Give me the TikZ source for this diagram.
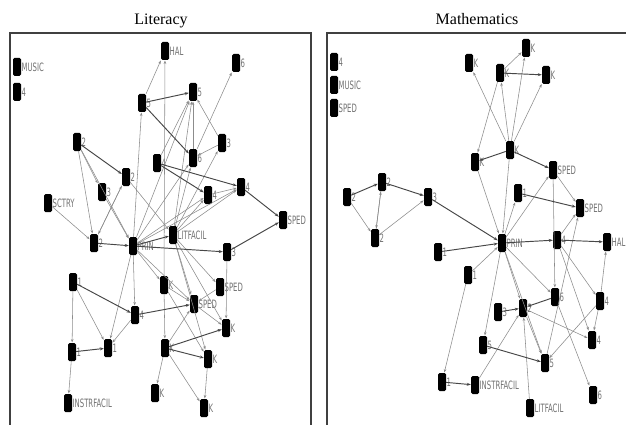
\documentclass[tikz,border=0pt]{standalone}
\usepackage{fontspec}
\usetikzlibrary{arrows.meta}
\newfontfamily\lblfont[FakeStretch=0.6]{DejaVu Sans}
\newfontfamily\ttlfont{Liberation Serif}
\tikzset{
  nd/.style={fill=black, rounded corners=1.5pt, minimum width=8pt, minimum height=18pt, inner sep=0pt},
  lbl/.style={font=\lblfont\fontsize{11.5}{11.5}\selectfont, text=black!55, inner sep=0.3pt},
  ed/.style={draw=black!45, line width=0.55pt, -{Stealth[length=3.5pt,width=2.6pt]}, shorten >=0.3pt},
  edk/.style={draw=black!72, line width=0.95pt, -{Stealth[length=4pt,width=3pt]}},
  frm/.style={draw=black!75, line width=1.3pt},
  ttl/.style={font=\ttlfont\fontsize{16}{16}\selectfont, anchor=base}
}
\newcommand\mynode[4]{\node[nd,label={[lbl,label distance=0pt]right:#4}] (#1) at (#2,#3) {};}
\begin{document}
\begin{tikzpicture}[x=1pt,y=-1pt]
\useasboundingbox[fill=white] (0,0) rectangle (626,425);
% titles
\node[ttl] (t1) at (161,25) {Literacy};
\node[ttl] (t2) at (477,25) {Mathematics};
% frames
\draw[frm] (10,425) -- (10,33) -- (311,33) -- (311,425);
\draw[frm] (327,425) -- (327,33) -- (626,33);
% ---------- Literacy nodes ----------
\mynode{lmusic}{17}{67}{MUSIC}
\mynode{lfour}{17}{92}{4}
\mynode{lhal}{165}{51}{HAL}
\mynode{lsixa}{236}{63}{6}
\mynode{lfivea}{142}{103}{5}
\mynode{lfiveb}{193}{92}{5}
\mynode{lthreea}{222}{143}{3}
\mynode{lsixb}{193}{158}{6}
\mynode{lfourb}{157}{163}{4}
\mynode{ltwoa}{77}{142}{2}
\mynode{ltwob}{126}{177}{2}
\mynode{lthreeb}{102}{192}{3}
\mynode{lsctry}{48}{203}{SCTRY}
\mynode{lfourc}{208}{195}{4}
\mynode{lfourd}{241}{187}{4}
\mynode{lsped}{283}{220}{SPED}
\mynode{ltwoc}{94}{243}{2}
\mynode{lprin}{133}{246}{PRIN}
\mynode{llit}{173}{235}{LITFACIL}
\mynode{lthreec}{227}{252}{3}
\mynode{lonea}{73}{282}{1}
\mynode{lka}{164}{285}{K}
\mynode{lspa}{220}{287}{SPED}
\mynode{lspb}{194}{304}{SPED}
\mynode{lfoure}{135}{315}{4}
\mynode{lkb}{226}{328}{K}
\mynode{loneb}{72}{352}{1}
\mynode{lonec}{108}{348}{1}
\mynode{lkc}{165}{348}{K}
\mynode{lkd}{208}{359}{K}
\mynode{linst}{68}{403}{INSTRFACIL}
\mynode{lke}{155}{393}{K}
\mynode{lkf}{204}{408}{K}
% ---------- Mathematics nodes ----------
\mynode{mfoura}{334}{62}{4}
\mynode{mmusic}{334}{85}{MUSIC}
\mynode{msped}{334}{108}{SPED}
\mynode{mka}{469}{63}{K}
\mynode{mkb}{526}{48}{K}
\mynode{mkc}{500}{73}{K}
\mynode{mkd}{546}{75}{K}
\mynode{mke}{510}{150}{K}
\mynode{mkf}{475}{162}{K}
\mynode{mspa}{553}{170}{SPED}
\mynode{monea}{518}{193}{1}
\mynode{mspb}{580}{208}{SPED}
\mynode{mtwoa}{347}{197}{2}
\mynode{mtwob}{382}{182}{2}
\mynode{mthreea}{428}{197}{3}
\mynode{mtwoc}{375}{238}{2}
\mynode{mprin}{502}{243}{PRIN}
\mynode{moneb}{438}{252}{1}
\mynode{mfourb}{557}{240}{4}
\mynode{mhal}{607}{242}{HAL}
\mynode{monec}{468}{275}{1}
\mynode{msixa}{555}{297}{6}
\mynode{mfourc}{600}{301}{4}
\mynode{mthreeb}{498}{312}{3}
\mynode{mthreec}{523}{308}{2}
\mynode{mfourd}{592}{340}{4}
\mynode{mfivea}{483}{345}{5}
\mynode{mfiveb}{545}{363}{5}
\mynode{moned}{442}{382}{1}
\mynode{minst}{475}{385}{INSTRFACIL}
\mynode{mlit}{530}{408}{LITFACIL}
\mynode{msixb}{593}{395}{6}
% ---------- Literacy edges ----------
\foreach \a/\b in {lfivea/lhal, lka/lhal, lsixb/lsixa, lthreea/lfiveb, lprin/lfiveb, llit/lfiveb, lfourb/lfiveb, lsixb/lfiveb,
  lthreea/lsixb, ltwoa/ltwoc, ltwoa/lprin, ltwoa/lthreeb, lthreeb/lprin, ltwob/ltwoc, ltwob/llit, lsctry/ltwoc,
  llit/lfourc, llit/lfourd, lprin/lfourc, lprin/lfourd, lfourc/lfourd, llit/lspa, llit/lspb, llit/lkb, llit/lkd,
  lprin/lonec, lprin/lfoure, lprin/lka, lonea/lonec, lonea/loneb, loneb/linst, lfoure/lonec, lkc/lke, lkc/lkf,
  lkd/lkf, lkc/lspb, lspb/lkb, lka/lkc, lka/lspb, lspa/lspb, lka/lkd, lthreec/lkb, lprin/lfivea, llit/lsixb,
  lprin/lsixb, llit/lthreea, ltwoc/ltwob, lprin/lspb}
  \draw[ed] (\a) -- (\b);
\foreach \a/\b in {lfivea/lfiveb, lfivea/lsixb, lfourb/lfourc, lfourb/lfourd, ltwoa/ltwob, ltwoc/lprin, lprin/llit,
  lprin/lthreec, lfourd/lsped, lthreec/lsped, lonea/lfoure, loneb/lonec, lfoure/lspb, lkc/lkb, lkc/lkd}
  \draw[edk] (\a) -- (\b);
% ---------- Mathematics edges ----------
\foreach \a/\b in {mkc/mkb, mke/mka, mke/mkc, mke/mkb, mke/mkd, mkc/mkf, mke/mprin, mkf/mprin, mspa/mspb, mprin/monea,
  mtwoa/mtwoc, mtwob/mtwoc, mtwoc/mtwob, mtwoc/mthreea, monec/mprin, mfourb/mspb, mfiveb/mspb, mprin/msixa, mprin/mthreec,
  mthreec/mfourd, mthreec/mfiveb, mfourc/mhal, mfourc/mfourd, mfourc/mfiveb, mfourb/mfourd, mfourb/mfourc, msixa/msixb,
  monec/moned, minst/mthreec, mlit/mthreec, mprin/mfivea, mprin/mfiveb, mspa/msixa, mprin/mspa}
  \draw[ed] (\a) -- (\b);
\foreach \a/\b in {mkc/mkd, mke/mkf, mke/mspa, monea/mspb, mtwoa/mtwob, mtwob/mthreea, mthreea/mprin, moneb/mprin,
  mprin/mfourb, mfourb/mhal, msixa/mthreec, mfivea/mfiveb, moned/minst, mthreeb/mthreec}
  \draw[edk] (\a) -- (\b);
\end{tikzpicture}
\end{document}
